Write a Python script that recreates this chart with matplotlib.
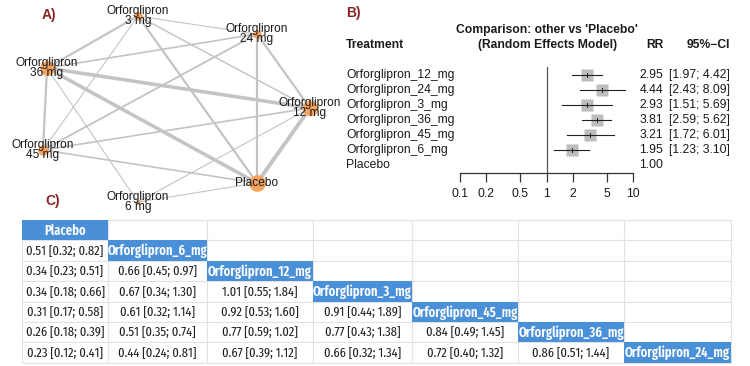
import matplotlib
matplotlib.use("Agg")
import matplotlib.pyplot as plt
from matplotlib.patches import Rectangle
from matplotlib.transforms import blended_transform_factory

plt.rcParams['font.family'] = ['Liberation Sans', 'DejaVu Sans']
TBL_FONT = ['Fira Sans Extra Condensed', 'Fira Sans Condensed', 'DejaVu Sans']

# ---- A) network ----
net_nodes = ['Orforglipron\n3 mg', 'Orforglipron\n24 mg', 'Orforglipron\n36 mg', 'Orforglipron\n12 mg',
             'Orforglipron\n45 mg', 'Placebo', 'Orforglipron\n6 mg']
node_size = [4, 4, 7, 7.5, 5, 8, 2]
# (from, to, relative weight)
net_edges = [(0, 1, 1), (0, 2, 2), (0, 4, 1), (0, 5, 2), (0, 3, 1.3),
             (1, 2, 1.5), (1, 4, 1.7), (1, 5, 2), (1, 3, 2),
             (2, 3, 3.2), (2, 5, 3.2), (2, 4, 2), (2, 6, 1),
             (3, 4, 1.5), (3, 5, 3.5), (3, 6, 1),
             (4, 5, 1.5), (6, 5, 1)]

# ---- B) forest ----
treatments = ['Orforglipron_12_mg', 'Orforglipron_24_mg', 'Orforglipron_3_mg', 'Orforglipron_36_mg',
              'Orforglipron_45_mg', 'Orforglipron_6_mg', 'Placebo']
rr = [2.95, 4.44, 2.93, 3.81, 3.21, 1.95, 1.00]
lo = [1.97, 2.43, 1.51, 2.59, 1.72, 1.23, None]
hi = [4.42, 8.09, 5.69, 5.62, 6.01, 3.10, None]
ticks = [0.1, 0.2, 0.5, 1, 2, 5, 10]
tick_labels = ['0.1', '0.2', '0.5', '1', '2', '5', '10']

# ---- C) league table ----
league_diag = ['Placebo', 'Orforglipron_6_mg', 'Orforglipron_12_mg', 'Orforglipron_3_mg',
               'Orforglipron_45_mg', 'Orforglipron_36_mg', 'Orforglipron_24_mg']
league_lower = [
    [],
    ['0.51 [0.32; 0.82]'],
    ['0.34 [0.23; 0.51]', '0.66 [0.45; 0.97]'],
    ['0.34 [0.18; 0.66]', '0.67 [0.34; 1.30]', '1.01 [0.55; 1.84]'],
    ['0.31 [0.17; 0.58]', '0.61 [0.32; 1.14]', '0.92 [0.53; 1.60]', '0.91 [0.44; 1.89]'],
    ['0.26 [0.18; 0.39]', '0.51 [0.35; 0.74]', '0.77 [0.59; 1.02]', '0.77 [0.43; 1.38]', '0.84 [0.49; 1.45]'],
    ['0.23 [0.12; 0.41]', '0.44 [0.24; 0.81]', '0.67 [0.39; 1.12]', '0.66 [0.32; 1.34]', '0.72 [0.40; 1.32]',
     '0.86 [0.51; 1.44]'],
]

W, H = 750, 366
fig = plt.figure(figsize=(7.5, 3.66), dpi=100)
fig.patch.set_facecolor('white')

# canvas axes in pixel units for network + table
cv = fig.add_axes([0, 0, 1, 1])
cv.set_xlim(0, W)
cv.set_ylim(H, 0)
cv.axis('off')

node_xy = [(138, 16), (257, 34), (47, 68), (310, 108), (43, 150), (257, 183), (138, 202)]
for a, b, w in net_edges:
    cv.plot([node_xy[a][0], node_xy[b][0]], [node_xy[a][1], node_xy[b][1]],
            color='#c4c4c4', lw=0.8 * w, solid_capstyle='butt', zorder=1)
for (x, y), s in zip(node_xy, node_size):
    cv.plot(x, y, 'o', ms=s * 1.5, color='#f5a35f', mec='none', zorder=2)
for (x, y), lab in zip(node_xy, net_nodes):
    cv.text(x, y, lab, ha='center', va='center', fontsize=8.6, linespacing=0.85,
            color='#1a1a1a', zorder=3)

lab_col = '#8b2525'
cv.text(42, 15, 'A)', color=lab_col, fontsize=10, fontweight='bold', va='center')
cv.text(45, 201, 'C)', color=lab_col, fontsize=10, fontweight='bold', va='center')
cv.text(346, 13, 'B)', color=lab_col, fontsize=10, fontweight='bold', va='center')

# league table
col_edges = [22, 108, 207, 313, 412, 518, 624, 731]
tbl_top, row_h = 220, 20.4
blue = '#4a90d9'
n = len(league_diag)
for i in range(n):
    y0 = tbl_top + i * row_h
    for j in range(n):
        x0, x1 = col_edges[j], col_edges[j + 1]
        cv.add_patch(Rectangle((x0, y0), x1 - x0, row_h, fc='white', ec='#e2e2e2', lw=0.8, zorder=1))
    # diagonal header cell
    x0, x1 = col_edges[i], col_edges[i + 1]
    cv.add_patch(Rectangle((x0, y0), x1 - x0, row_h, fc=blue, ec='none', zorder=2))
    cv.text((x0 + x1) / 2, y0 + row_h / 2 + 0.5, league_diag[i], ha='center', va='center',
            color='white', fontsize=9.8, fontweight='semibold', family=TBL_FONT, zorder=3)
    for j, val in enumerate(league_lower[i]):
        xa, xb = col_edges[j], col_edges[j + 1]
        cv.text((xa + xb) / 2, y0 + row_h / 2 + 0.5, val, ha='center', va='center',
                color='#222222', fontsize=9.8, family=TBL_FONT, zorder=3)

# forest axes: x 460..633 px, y 67..173 px
fx0, fx1, fy0, fy1 = 460, 633, 67, 173
ax = fig.add_axes([fx0 / W, 1 - fy1 / H, (fx1 - fx0) / W, (fy1 - fy0) / H])
ax.set_xscale('log')
ax.set_xlim(0.1, 10)
nrow = len(treatments)
ax.set_ylim(nrow - 1 + 8 / 15, -8 / 15)
ax.patch.set_alpha(0)
for s in ['top', 'right', 'left']:
    ax.spines[s].set_visible(False)
ax.spines['bottom'].set_color('#333333')
ax.spines['bottom'].set_linewidth(0.9)
ax.set_yticks([])
ax.set_xticks(ticks)
ax.set_xticklabels(tick_labels)
ax.minorticks_off()
ax.tick_params(axis='x', direction='out', length=6.5, width=0.9, color='#333333',
               labelsize=8.7, pad=4, labelcolor='#1a1a1a')
ax.axvline(1, color='#555555', lw=0.9)
for k in range(nrow):
    if lo[k] is None:
        continue
    ax.plot([lo[k], hi[k]], [k, k], color='#222222', lw=0.8, zorder=2)
    ax.plot(rr[k], k, 's', ms=8, color='#bdbdbd', mec='none', zorder=1)
    ax.plot([rr[k], rr[k]], [k - 0.12, k + 0.12], color='#222222', lw=0.7, zorder=3)

tr = blended_transform_factory(fig.transFigure, ax.transData)
for k, name in enumerate(treatments):
    ax.text(346 / W, k, name, transform=tr, ha='left', va='center', fontsize=8.7, color='#1a1a1a')
    ax.text(663 / W, k, f'{rr[k]:.2f}', transform=tr, ha='right', va='center', fontsize=8.7, color='#1a1a1a')
    if lo[k] is not None:
        ax.text(730 / W, k, f'[{lo[k]:.2f}; {hi[k]:.2f}]', transform=tr, ha='right', va='center',
                fontsize=8.7, color='#1a1a1a')

hdr = dict(fontsize=8.7, fontweight='bold', color='#1a1a1a', va='center')
cv.text(547, 30, "Comparison: other vs 'Placebo'", ha='center', **hdr)
cv.text(617, 45, '(Random Effects Model)', ha='right', **hdr)
cv.text(346, 45, 'Treatment', ha='left', **hdr)
cv.text(655, 45, 'RR', ha='center', **hdr)
cv.text(730, 45, '95%\u2212CI', ha='right', **hdr)

fig.savefig('out.png', dpi=100)
